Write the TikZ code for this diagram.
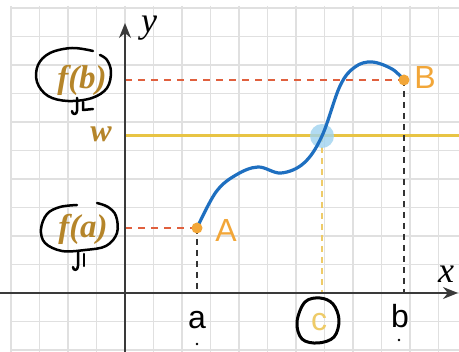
\documentclass[tikz,border=0pt]{standalone}
\usepackage{fontspec}
\setmainfont{Liberation Serif}
\newfontfamily\lsans{Liberation Sans}
\usetikzlibrary{arrows.meta}
\definecolor{gridc}{HTML}{E0E0E0}
\definecolor{axisc}{HTML}{3A3A3A}
\definecolor{curvec}{HTML}{1E6FC0}
\definecolor{goldc}{HTML}{F2A638}
\definecolor{brownc}{HTML}{B5852A}
\definecolor{wline}{HTML}{E8C444}
\definecolor{redd}{HTML}{E0603E}
\definecolor{cyell}{HTML}{EECB68}
\definecolor{blobc}{HTML}{9FD3EF}
\tikzset{
  gridline/.style={gridc,line width=1.3pt},
  axisline/.style={axisc,line width=2pt,-{Stealth[length=15pt,width=12pt]}},
  reddash/.style={redd,line width=2.2pt,dash pattern=on 7pt off 6pt},
  blackdash/.style={black!80,line width=2.4pt,dash pattern=on 6pt off 5pt},
  yelldash/.style={cyell,line width=2pt,dash pattern=on 6pt off 5pt},
  ink/.style={black,line width=2.5pt,line cap=round,line join=round},
  sanslab/.style={font=\lsans\fontsize{32}{32}\selectfont,inner sep=0pt},
  fval/.style={text=brownc,font=\bfseries\itshape\fontsize{33}{33}\selectfont,inner sep=0pt},
  axlab/.style={font=\itshape\fontsize{36}{36}\selectfont,inner sep=0pt},
  ptdot/.style={fill=goldc,circle,inner sep=0pt,minimum size=11pt},
}
\begin{document}
\begin{tikzpicture}[x=1pt,y=-1pt]
\useasboundingbox (0,0) rectangle (459,352);
\fill[white] (0,0) rectangle (459,352);
% grid
\foreach \i in {-4,...,11} \draw[gridline] ({125+28.5*\i},6) -- ({125+28.5*\i},352);
\foreach \j in {-2,...,10} \draw[gridline] (10,{293-28.5*\j}) -- (459,{293-28.5*\j});
% coordinates
\coordinate (A) at (197,228);
\coordinate (B) at (404,80);
\coordinate (C) at (322,136);
\coordinate (Ax) at (197,293);
\coordinate (Bx) at (404,293);
\coordinate (Cx) at (322,293);
\coordinate (Ay) at (125,228);
\coordinate (By) at (125,80);
\coordinate (W0) at (125,136);
\coordinate (W1) at (459,136);
\coordinate (Xs) at (0,293);
\coordinate (Xe) at (458,293);
\coordinate (Ys) at (125,352);
\coordinate (Ye) at (125,23);
% w line
\draw[wline,line width=3pt] (W0) -- (W1);
% dashed guides
\draw[reddash] (By) -- (B);
\draw[reddash] (Ay) -- (A);
\draw[blackdash] (A) -- (Ax);
\draw[blackdash] (B) -- (Bx);
\draw[yelldash] (C) -- (Cx);
% axes
\draw[axisline] (Xs) -- (Xe);
\draw[axisline] (Ys) -- (Ye);
% intersection blob
\fill[blobc,opacity=0.8] (C) circle (12pt);
% curve
\draw[curvec,line width=3.2pt,line cap=round] plot[smooth,tension=0.6] coordinates
  {(197,228) (216,192) (236,175) (258,167) (281,173) (304,163) (322,136) (340,86) (355,67) (372,62) (392,69) (404,80)};
% points
\node[ptdot] (pA) at (A) {};
\node[ptdot] (pB) at (B) {};
% labels
\node[sanslab,text=goldc] (lA) at (226,230) {A};
\node[sanslab,text=goldc] (lB) at (425,77) {B};
\node[sanslab] (la) at (197,320) {a};
\node[sanslab] (lb) at (400,316) {b};
\node[sanslab,text=cyell] (lc) at (319,322) {c};
\node[fval] (lfb) at (82,80) {f(b)};
\node[fval] (lfa) at (83,229) {f(a)};
\node[fval,font=\bfseries\itshape\fontsize{32}{32}\selectfont] (lw) at (101,134) {w};
\node[axlab] (ly) at (149,28) {y};
\node[axlab] (lx) at (446,274) {x};
% small dots
\fill[black] (197,344) circle (1.3pt);
\fill[black] (399,340) circle (1.3pt);
% handwritten ink
\draw[ink] plot[smooth,tension=0.6] coordinates
  {(93,51) (72,48) (50,53) (38,65) (37,82) (48,96) (68,101) (92,98) (107,88) (111,72) (107,60) (100,55)};
\draw[ink] (77,98) -- (77,111) .. controls (77,115) and (72,115) .. (72,111);
\draw[ink] (83,102) -- (83,110) -- (93,109);
\draw[ink] plot[smooth,tension=0.6] coordinates
  {(77,205) (60,207) (47,214) (41,229) (45,243) (62,251) (85,250) (106,246) (117,233) (116,216) (108,207) (97,203)};
\draw[ink] (78,252) -- (78,266) .. controls (78,271) and (73,271) .. (73,267);
\draw[ink] (84,254) -- (84,266);
\draw[ink,line width=3pt] plot[smooth cycle,tension=0.6] coordinates
  {(305,302) (320,298) (333,304) (339,320) (334,337) (318,343) (302,339) (297,322)};
\end{tikzpicture}
\end{document}
